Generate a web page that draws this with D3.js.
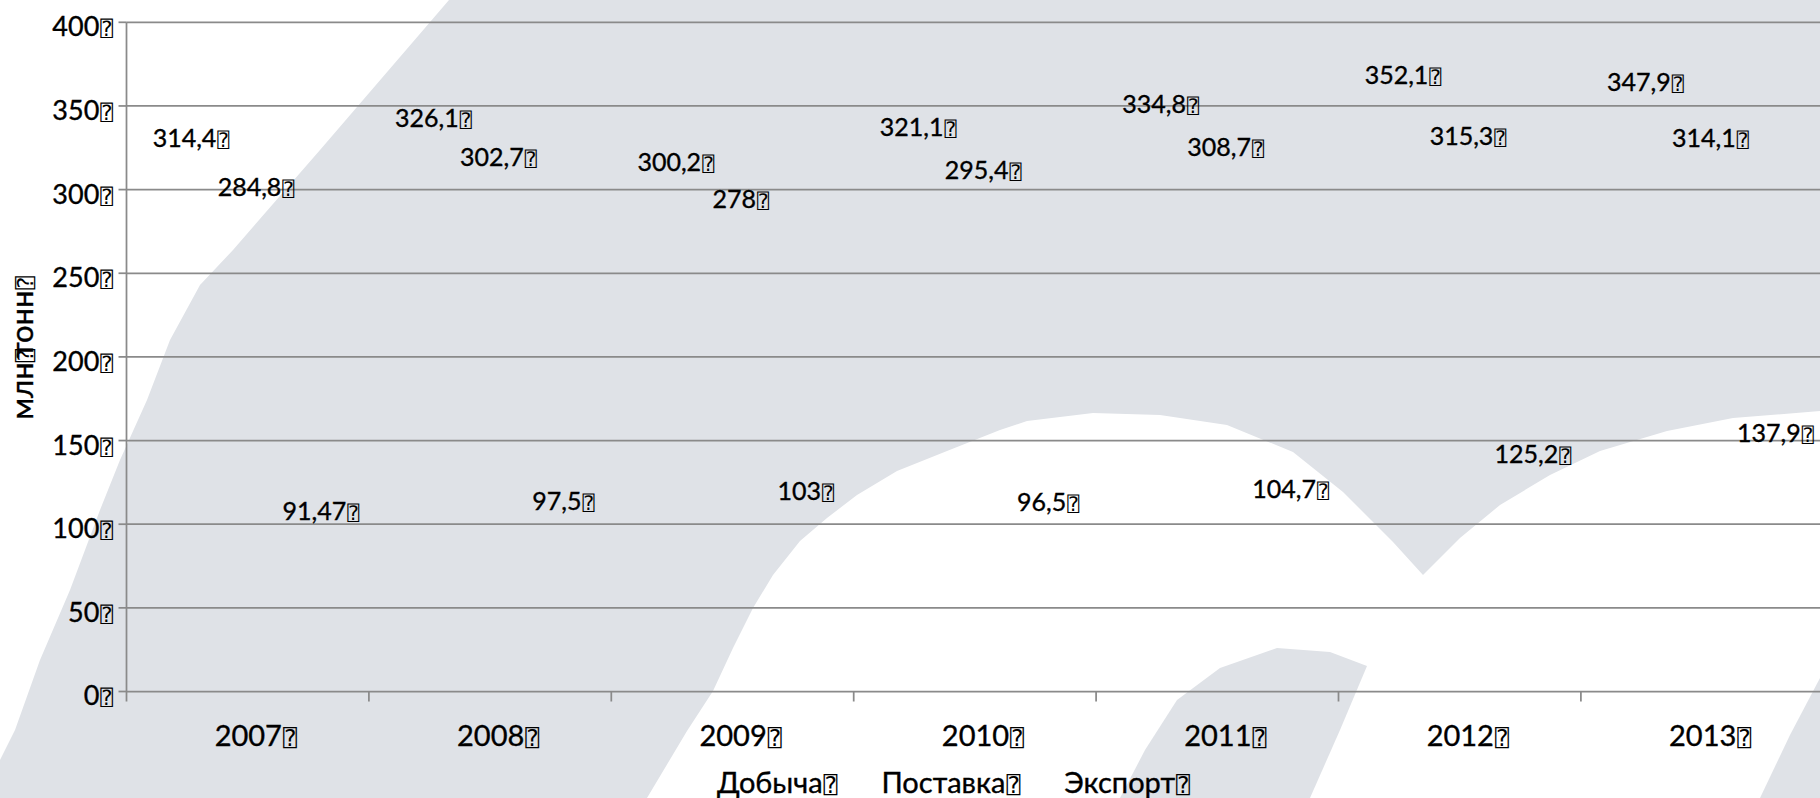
<!doctype html>
<html lang="ru">
<head>
  <meta charset="utf-8" />
  <title>Добыча, поставка, экспорт</title>
  <script src="https://cdn.jsdelivr.net/npm/d3@7"></script>
  <style>
    body { margin: 0; background: #fff; }
    svg text { font-family: Lato, "Open Sans", sans-serif; fill: #000; stroke: #000; stroke-width: 0.35px; }
    svg .tofu { font-family: "DejaVu Sans Mono", "DejaVu Sans", monospace; stroke: none; }
  </style>
</head>
<body>
  <svg id="chart" width="1820" height="798"></svg>
  <script>
    // data (million tonnes)
    const years = ["2007", "2008", "2009", "2010", "2011", "2012", "2013"];
    const seriesNames = ["Добыча", "Поставка", "Экспорт"];
    const dobycha = [314.4, 326.1, 300.2, 321.1, 334.8, 352.1, 347.9];
    const postavka = [284.8, 302.7, 278, 295.4, 308.7, 315.3, 314.1];
    const eksport = [91.47, 97.5, 103, 96.5, 104.7, 125.2, 137.9];
    const yTicks = [0, 50, 100, 150, 200, 250, 300, 350, 400];
    const yTitle = ["млн", "тонн"];

    const w = 1820;
    const h = 798;
    const plotLeft = 126.5;
    const plotTop = 22.3;
    const plotBottom = 691.5;
    const step = 242.4;
    const TOFU = "\u2370";

    const svg = d3.select("#chart");

    // watermark in the background
    const bgGray = "#dfe2e7";
    svg.append("rect").attr("width", w).attr("height", h).attr("fill", bgGray);
    const wmWhite = [
      [[0, 0], [449, 0], [400, 57], [320, 150], [233, 250], [200, 285], [170, 340], [147, 400], [120, 460],
        [100, 510], [70, 590], [40, 660], [15, 730], [0, 760]],
      [[647, 798], [687, 731], [713, 691], [733, 648], [753, 608], [773, 575], [800, 541], [827, 518],
        [857, 495], [897, 471], [947, 451], [1000, 430], [1027, 421], [1093, 413], [1160, 415], [1227, 425],
        [1293, 452], [1343, 492], [1393, 542], [1423, 575], [1460, 538], [1500, 505], [1550, 475], [1600, 451],
        [1667, 431], [1733, 418], [1820, 411], [1820, 798]]
    ];
    const wmGray = [
      [[1120, 798], [1145, 750], [1177, 700], [1220, 668], [1277, 648], [1330, 652], [1367, 666], [1340, 730], [1310, 798]],
      [[1760, 798], [1790, 735], [1820, 678], [1820, 798]]
    ];
    const poly = d3.line();
    svg.selectAll("path.wm-white").data(wmWhite).enter().append("path")
      .attr("class", "wm-white").attr("d", d => poly(d) + "Z").attr("fill", "#fff");
    svg.selectAll("path.wm-gray").data(wmGray).enter().append("path")
      .attr("class", "wm-gray").attr("d", d => poly(d) + "Z").attr("fill", bgGray);

    // scales
    const x0 = d3.scaleBand().domain(years).range([plotLeft, plotLeft + step * years.length]);
    const x1 = d3.scaleBand().domain(seriesNames).range([0, x0.bandwidth()])
      .paddingOuter(0.365).align(0.675);
    const y = d3.scaleLinear().domain([0, 400]).range([plotBottom, plotTop]);

    const fmt = v => String(v).replace(".", ",");
    const withTofu = (sel, size) => {
      sel.append("tspan").text(d => d.label);
      sel.append("tspan").attr("class", "tofu").attr("dx", 1)
        .style("font-size", Math.round(size * 0.78) + "px").text(TOFU);
    };

    // gridlines
    const gridColor = "#8a8a8a";
    svg.append("g").selectAll("line").data(yTicks).enter().append("line")
      .attr("x1", plotLeft).attr("x2", w)
      .attr("y1", d => y(d)).attr("y2", d => y(d))
      .attr("stroke", gridColor).attr("stroke-width", 1.75);

    // y axis line and ticks
    svg.append("line").attr("x1", plotLeft).attr("x2", plotLeft)
      .attr("y1", y(400)).attr("y2", y(0) + 10)
      .attr("stroke", gridColor).attr("stroke-width", 1.75);
    svg.append("g").selectAll("line").data(yTicks).enter().append("line")
      .attr("x1", plotLeft - 8).attr("x2", plotLeft)
      .attr("y1", d => y(d)).attr("y2", d => y(d))
      .attr("stroke", gridColor).attr("stroke-width", 1.75);
    svg.append("g").selectAll("text").data(yTicks.map(v => ({ v: v, label: String(v) })))
      .enter().append("text")
      .attr("x", 113).attr("y", d => y(d.v) + 4.5)
      .attr("dy", "0.35em").attr("text-anchor", "end")
      .style("font-size", "27px")
      .call(withTofu, 27);

    // x axis ticks at category edges
    svg.append("g").selectAll("line").data(years).enter().append("line")
      .attr("x1", d => x0(d) + x0.step())
      .attr("x2", d => x0(d) + x0.step())
      .attr("y1", y(0)).attr("y2", y(0) + 10)
      .attr("stroke", gridColor).attr("stroke-width", 1.75);
    svg.append("g").selectAll("text").data(years.map(v => ({ v: v, label: v })))
      .enter().append("text")
      .attr("x", d => x0(d.v) + x0.bandwidth() / 2 + 8)
      .attr("y", 736).attr("dy", "0.35em").attr("text-anchor", "middle")
      .style("font-size", "29px")
      .call(withTofu, 29);

    // y axis title
    const title = svg.append("text")
      .attr("transform", "translate(33,348) rotate(-90)")
      .attr("text-anchor", "middle")
      .style("font-size", "31px");
    title.append("tspan").text(yTitle[0]);
    title.append("tspan").attr("class", "tofu").style("font-size", "22px").text(TOFU);
    title.append("tspan").attr("dx", -9).text(yTitle[1]);
    title.append("tspan").attr("class", "tofu").attr("dx", 1).style("font-size", "22px").text(TOFU);

    // bars (no fill, as in the source) and their value labels
    const seriesValues = [dobycha, postavka, eksport];
    const rows = [];
    years.forEach((yr, i) => {
      seriesNames.forEach((s, j) => {
        rows.push({ year: yr, series: s, value: seriesValues[j][i], label: fmt(seriesValues[j][i]) });
      });
    });

    const bars = svg.append("g").selectAll("g").data(rows).enter().append("g");
    bars.append("rect")
      .attr("x", d => x0(d.year) + x1(d.series))
      .attr("y", d => y(d.value))
      .attr("width", x1.bandwidth())
      .attr("height", d => y(0) - y(d.value))
      .attr("fill", "none");
    bars.append("text")
      .attr("x", d => x0(d.year) + x1(d.series) + x1.bandwidth() / 2)
      .attr("y", d => y(d.value) - 27.5)
      .attr("dy", "0.35em").attr("text-anchor", "middle")
      .style("font-size", "25px")
      .call(withTofu, 25);

    // legend (series without visible swatches)
    const legend = svg.append("g").attr("transform", "translate(717,783)");
    let lx = 0;
    seriesNames.forEach(s => {
      const t = legend.append("text").datum({ label: s })
        .attr("x", lx).attr("dy", "0.35em")
        .style("font-size", "29px")
        .call(withTofu, 29);
      lx += t.node().getComputedTextLength() + 45;
    });
  </script>
</body>
</html>
